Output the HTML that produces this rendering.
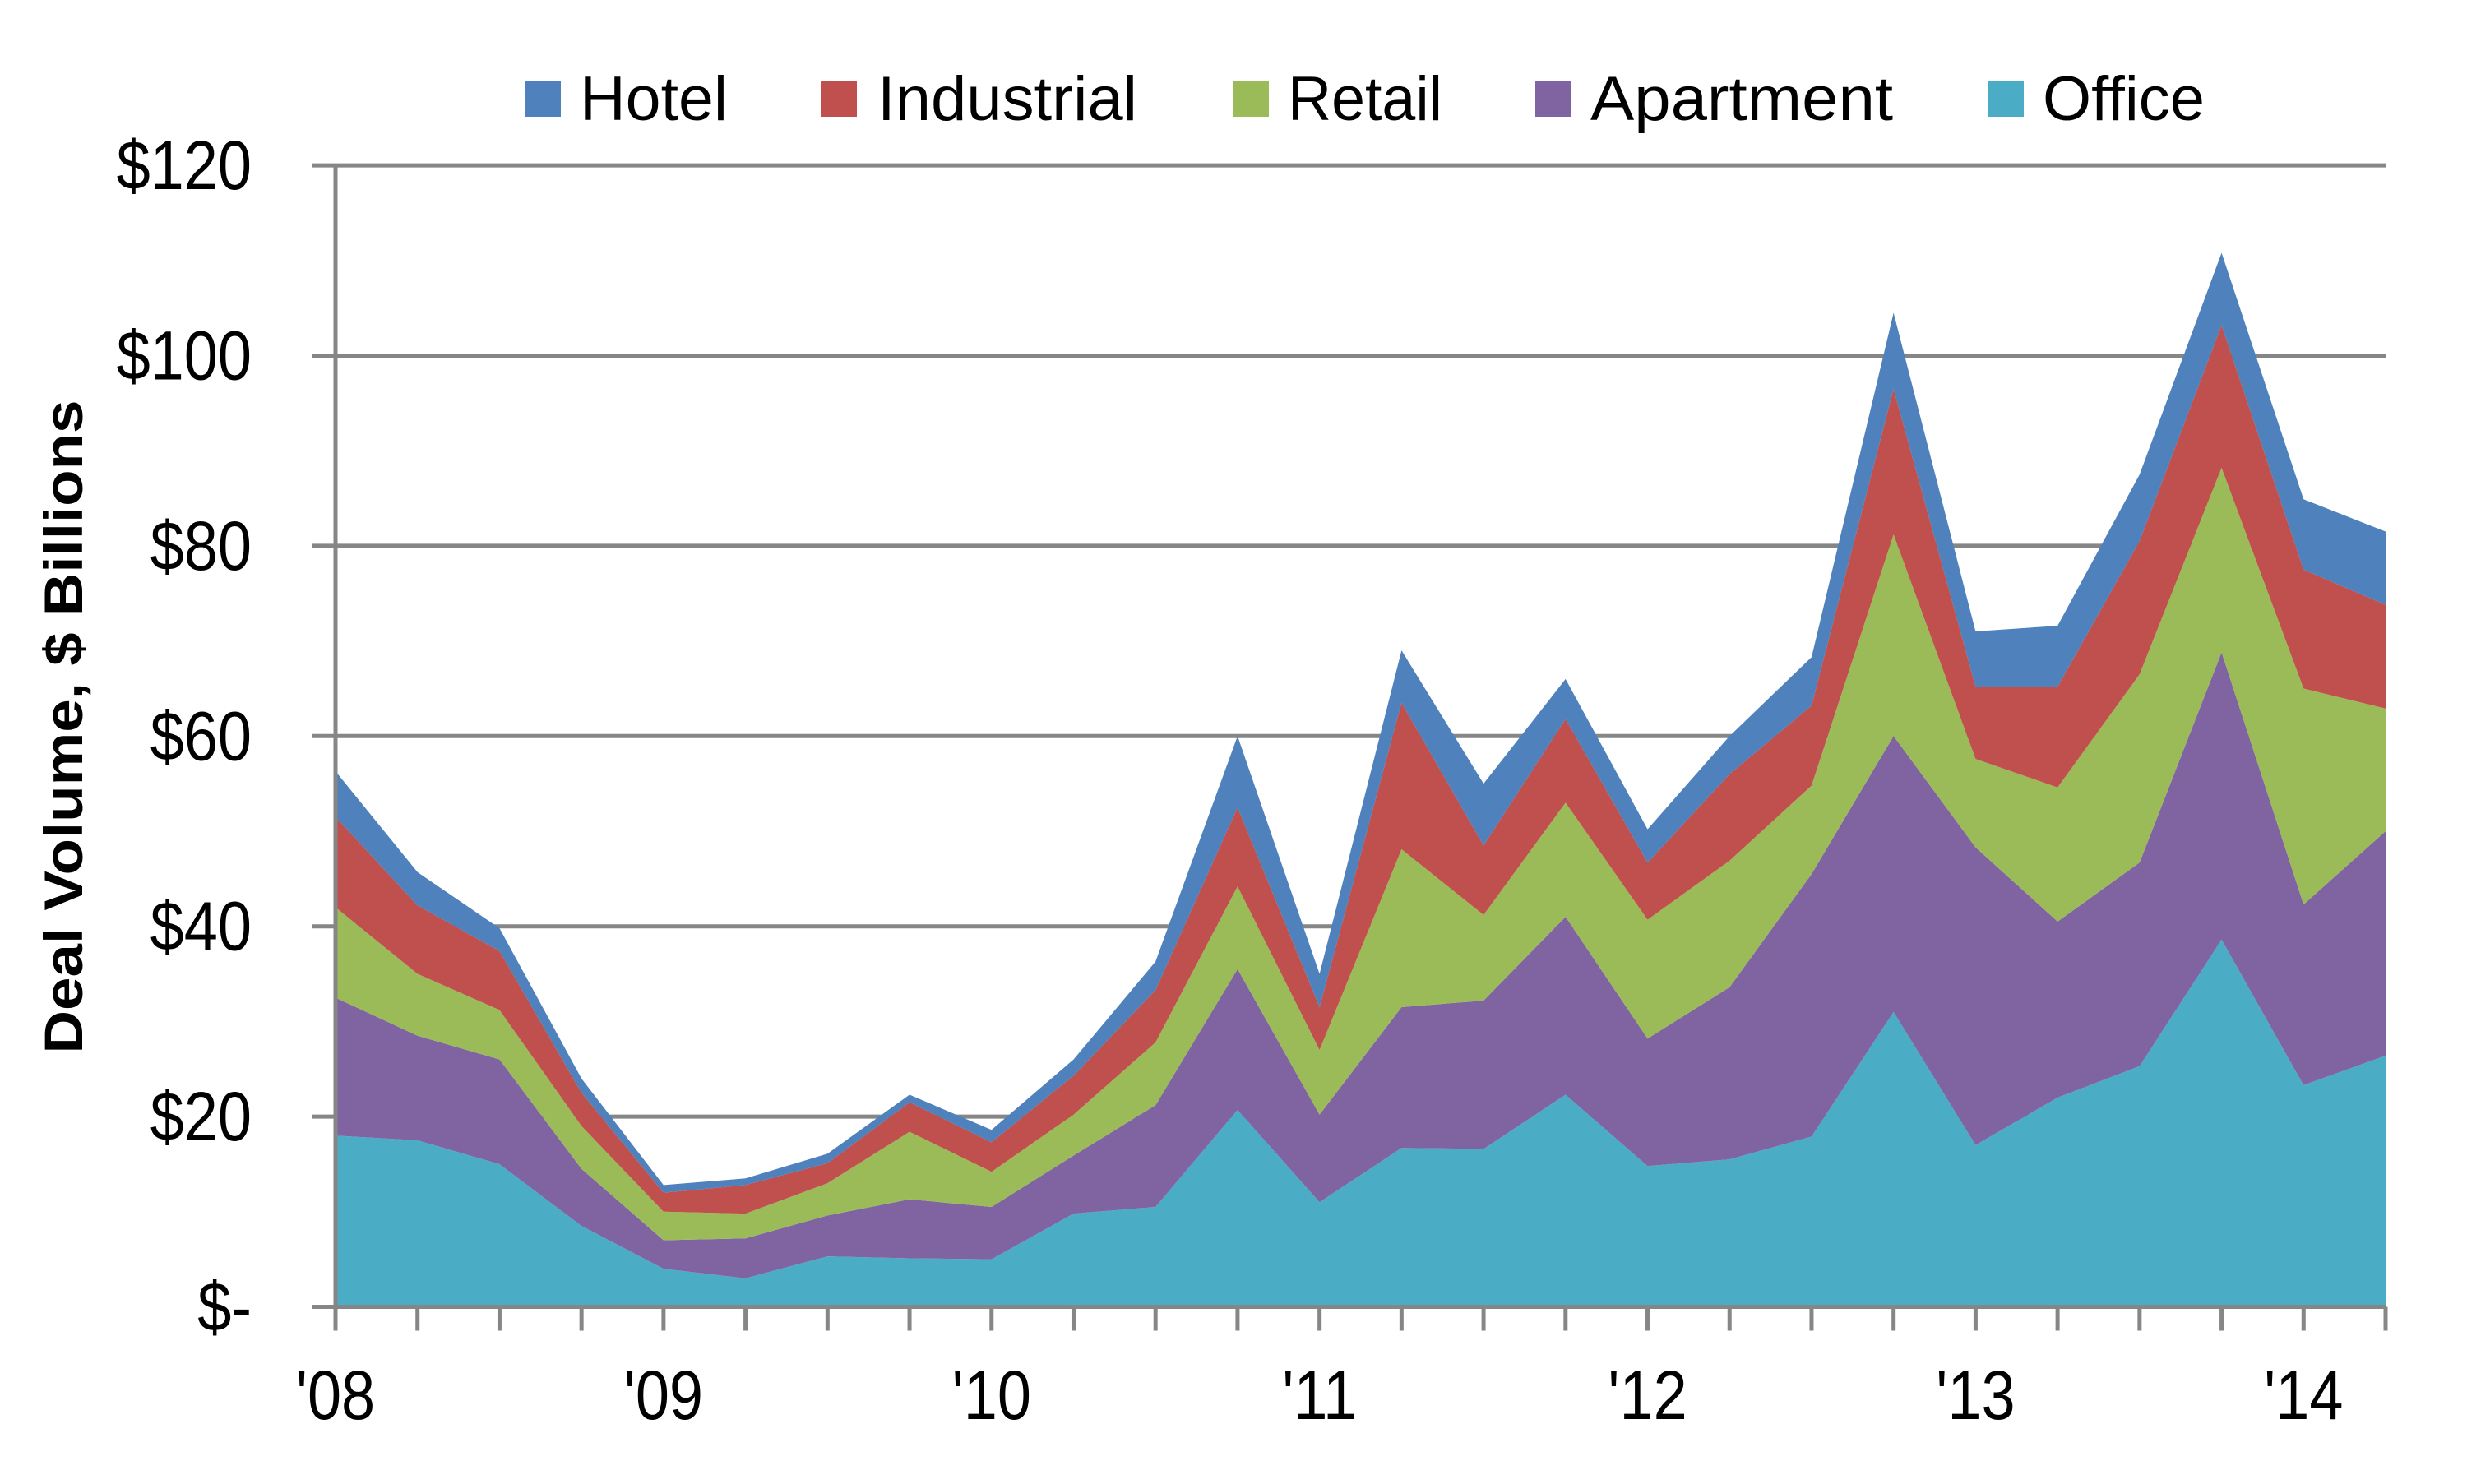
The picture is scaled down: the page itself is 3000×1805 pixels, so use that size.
<!DOCTYPE html>
<html><head><meta charset="utf-8"><style>
html,body{margin:0;padding:0;background:#fff;}
svg text{font-family:"Liberation Sans",sans-serif;}
</style></head><body>
<svg id="s" width="3000" height="1800" viewBox="0 0 3000 1800" xmlns="http://www.w3.org/2000/svg">
<rect width="3000" height="1800" fill="#fff"/>
<g id="grid"></g>
<g id="areas"></g>
<g id="axes"></g>
<g font-size="76" fill="#000">
<rect x="638" y="98" width="44" height="44" fill="#4F81BD"/><text x="705" y="146" textLength="180" lengthAdjust="spacingAndGlyphs">Hotel</text>
<rect x="998" y="98" width="44" height="44" fill="#C0504D"/><text x="1067" y="146" textLength="316" lengthAdjust="spacingAndGlyphs">Industrial</text>
<rect x="1499" y="98" width="44" height="44" fill="#9BBB59"/><text x="1566" y="146" textLength="188" lengthAdjust="spacingAndGlyphs">Retail</text>
<rect x="1867" y="98" width="44" height="44" fill="#8064A2"/><text x="1934" y="146" textLength="368" lengthAdjust="spacingAndGlyphs">Apartment</text>
<rect x="2417" y="98" width="44" height="44" fill="#4BACC6"/><text x="2484" y="146" textLength="197" lengthAdjust="spacingAndGlyphs">Office</text>
</g>
<text transform="translate(100,884) rotate(-90)" text-anchor="middle" font-size="66" font-weight="bold" textLength="795" lengthAdjust="spacingAndGlyphs">Deal Volume, $ Billions</text>
</svg>
<script>
var L=408,R=2901,Y0=1589.5,YS=11.57,dx=(R-L)/25;
function X(i){return L+i*dx}function Y(v){return Y0-v*YS}
var d=[
[18,17.5,15,8.5,4,3,5.3,5.1,5,9.8,10.5,20.7,11,16.7,16.6,22.3,14.8,15.5,17.9,31,17,22,25.3,38.6,23.3,26.4],
[32.5,28.5,26,14.5,7,7.2,9.6,11.3,10.5,15.9,21.2,35.5,20.2,31.5,32.2,41,28.2,33.6,45.5,60,48.3,40.5,46.7,68.8,42.3,50],
[42,35,31.2,19,10,9.8,13,18.4,14.2,20.2,27.8,44.2,27,48.1,41.2,53,40.7,46.9,54.8,81.2,57.6,54.6,66.5,88.2,65,62.9],
[51.5,42.2,37.4,22.5,12,12.8,15.1,21.5,17.3,24.3,33.3,52.5,31.5,63.5,48.5,61.8,46.7,56,63.2,96.5,65.2,65.2,80.5,103.2,77.5,73.8],
[56.3,45.7,39.8,24,12.8,13.5,16.1,22.3,18.6,26,36.3,60,35,69,55,66,50.2,60,68.3,104.5,71,71.6,87.5,110.8,84.9,81.5]];
var cols=["#4BACC6","#8064A2","#9BBB59","#C0504D","#4F81BD"];
var ns="http://www.w3.org/2000/svg";
function el(p,t,a,txt){var e=document.createElementNS(ns,t);for(var k in a)e.setAttribute(k,a[k]);if(txt)e.textContent=txt;document.getElementById(p).appendChild(e);return e;}
for(var v=20;v<=120;v+=20){el("grid","line",{x1:L,x2:R,y1:Y(v),y2:Y(v),stroke:"#868686","stroke-width":5});}
for(var s=0;s<5;s++){var pts=[];for(var i=0;i<26;i++)pts.push(X(i)+","+Y(d[s][i]));
for(var i=25;i>=0;i--)pts.push(X(i)+","+Y(s?d[s-1][i]:0));
el("areas","polygon",{points:pts.join(" "),fill:cols[s]});}
el("axes","line",{x1:L,x2:L,y1:Y(120),y2:Y0+2,stroke:"#868686","stroke-width":5});
el("axes","line",{x1:L-29,x2:R,y1:Y0,y2:Y0,stroke:"#868686","stroke-width":5});
for(var v=20;v<=120;v+=20)el("axes","line",{x1:L-29,x2:L,y1:Y(v),y2:Y(v),stroke:"#868686","stroke-width":5});
for(var i=0;i<26;i++)el("axes","line",{x1:X(i),x2:X(i),y1:Y0,y2:Y0+29,stroke:"#868686","stroke-width":5});
var lab=["$-","$20","$40","$60","$80","$100","$120"];
for(var k=0;k<7;k++)el("axes","text",{transform:"translate(306,"+(Y(k*20)+29)+") scale(0.88,1)","text-anchor":"end","font-size":84},lab[k]);
var yl=["'08","'09","'10","'11","'12","'13","'14"];
for(var k=0;k<7;k++)el("axes","text",{transform:"translate("+X(k*4)+",1726) scale(0.88,1)","text-anchor":"middle","font-size":84},yl[k]);
</script>
</body></html>
